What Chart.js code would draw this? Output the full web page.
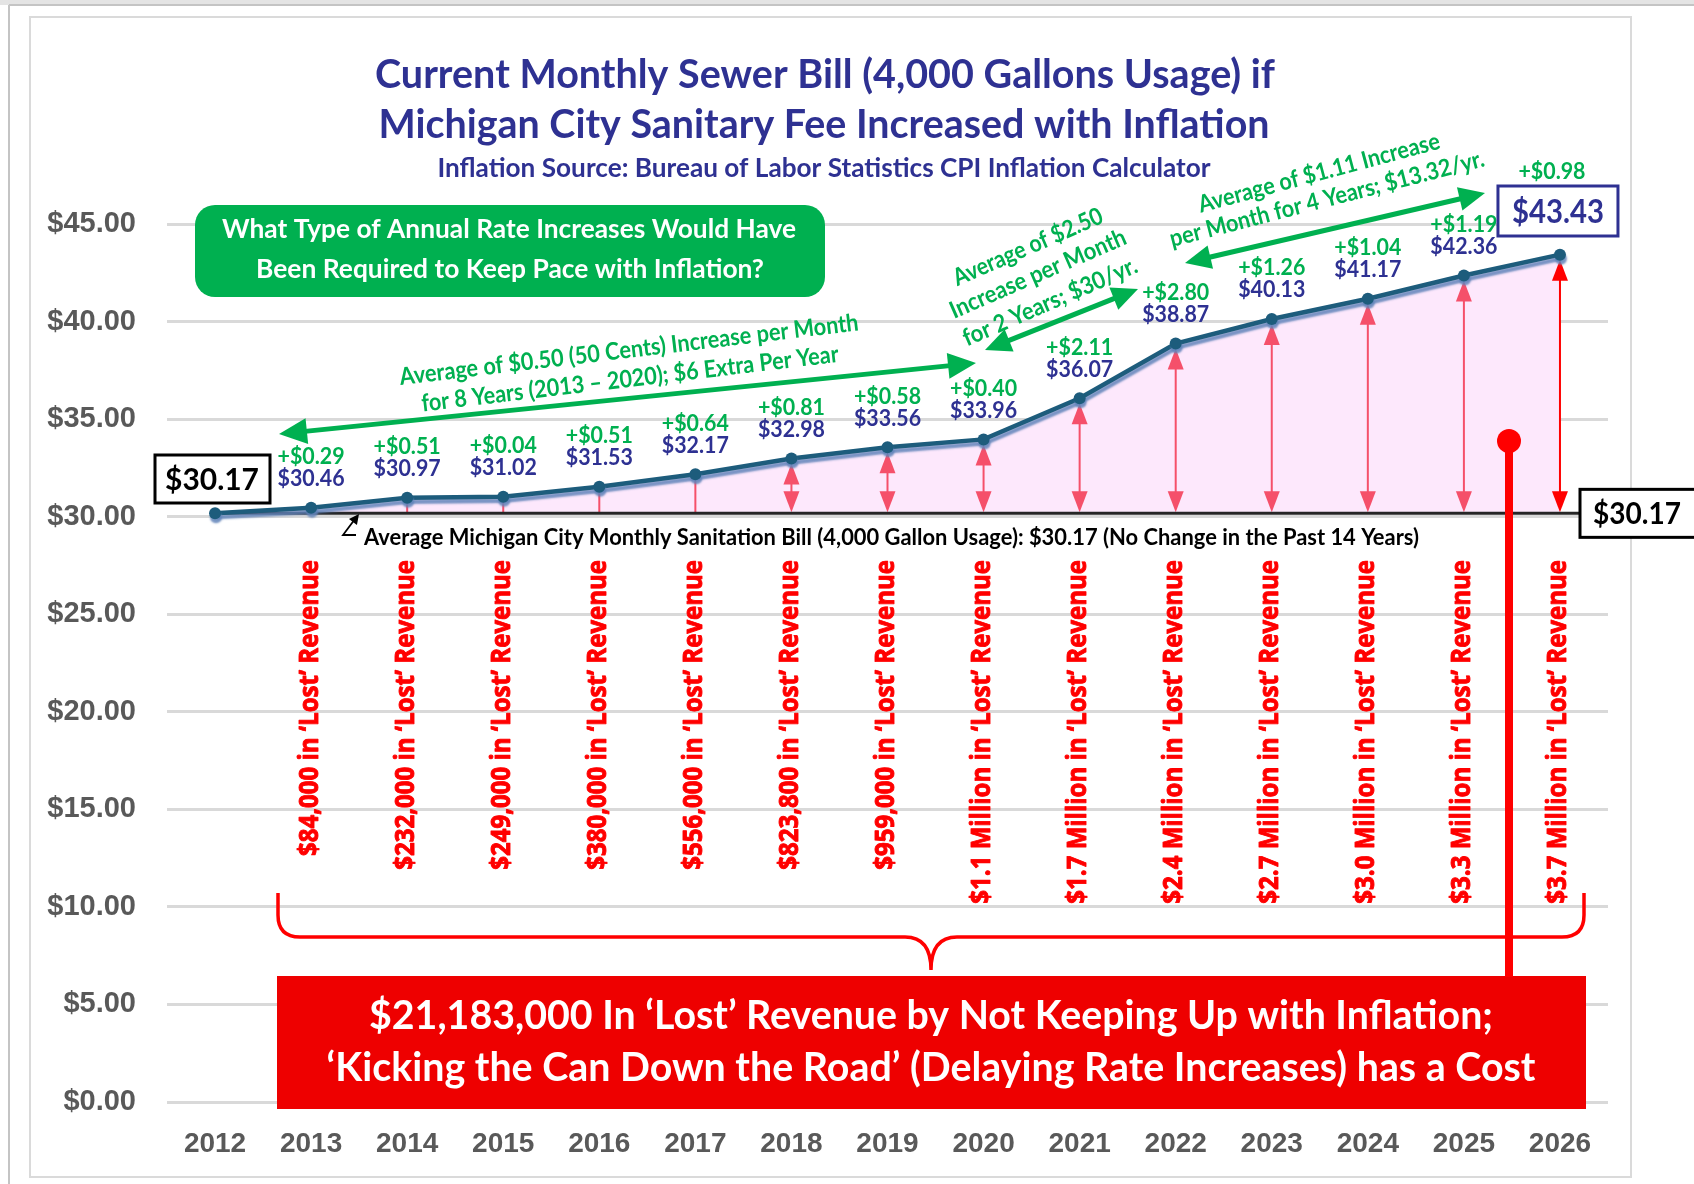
<!DOCTYPE html>
<html>
<head>
<meta charset="utf-8">
<title>Monthly Sewer Bill vs Inflation</title>
<script src="https://cdn.jsdelivr.net/npm/chart.js@4.4.1/dist/chart.umd.min.js"></script>
<style>
  html, body { margin: 0; padding: 0; background: #fff; }
  #wrap { width: 1694px; height: 1184px; }
</style>
</head>
<body>
<div id="wrap"><canvas id="chart" width="1694" height="1184"></canvas></div>
<script>
// DATA
const years = ['2012', '2013', '2014', '2015', '2016', '2017', '2018', '2019', '2020', '2021', '2022', '2023', '2024', '2025', '2026'];
const monthlyBill = [30.17, 30.46, 30.97, 31.02, 31.53, 32.17, 32.98, 33.56, 33.96, 36.07, 38.87, 40.13, 41.17, 42.36, 43.43];
const yearlyIncrease = [null, 0.29, 0.51, 0.04, 0.51, 0.64, 0.81, 0.58, 0.40, 2.11, 2.80, 1.26, 1.04, 1.19, 0.98];
const lostRevenue = [null, '$84,000', '$232,000', '$249,000', '$380,000', '$556,000', '$823,800', '$959,000',
  '$1.1 Million', '$1.7 Million', '$2.4 Million', '$2.7 Million', '$3.0 Million', '$3.3 Million', '$3.7 Million'];
const currentBill = 30.17;
const yMin = 0, yMax = 45, yStep = 5;

const GREEN = '#00B050', BLUE = '#2E3192', RED = '#FF0000', PINKRED = '#F5506A';
const CAL = 'Lato, "Open Sans", sans-serif';

// draw a text, optionally squeezed to a target width
function say(ctx, s, x, y, o) {
  ctx.save();
  ctx.font = (o.weight || 'bold') + ' ' + o.size + 'px ' + (o.family || CAL);
  ctx.fillStyle = o.color || '#000';
  ctx.textAlign = o.align || 'center';
  ctx.textBaseline = o.base || 'middle';
  ctx.translate(x, y);
  if (o.angle) ctx.rotate(o.angle * Math.PI / 180);
  let sx = o.sx || 1;
  if (o.w) sx = o.w / ctx.measureText(s).width;
  ctx.scale(sx, 1);
  ctx.fillText(s, 0, 0);
  if (o.stroke) { // a bit heavier
    ctx.strokeStyle = o.color; ctx.lineWidth = o.stroke; ctx.lineJoin = 'round';
    ctx.strokeText(s, 0, 0);
  }
  ctx.restore();
}

function head(ctx, x, y, ang, len, half) {
  ctx.beginPath();
  ctx.moveTo(x, y);
  ctx.lineTo(x - len * Math.cos(ang) + half * Math.sin(ang), y - len * Math.sin(ang) - half * Math.cos(ang));
  ctx.lineTo(x - len * Math.cos(ang) - half * Math.sin(ang), y - len * Math.sin(ang) + half * Math.cos(ang));
  ctx.closePath();
  ctx.fill();
}

// double headed arrow
function arrow2(ctx, x1, y1, x2, y2, color, lw, len, half) {
  const a = Math.atan2(y2 - y1, x2 - x1);
  ctx.save();
  ctx.strokeStyle = color; ctx.fillStyle = color; ctx.lineWidth = lw;
  ctx.beginPath();
  ctx.moveTo(x1 + (len - 2) * Math.cos(a), y1 + (len - 2) * Math.sin(a));
  ctx.lineTo(x2 - (len - 2) * Math.cos(a), y2 - (len - 2) * Math.sin(a));
  ctx.stroke();
  head(ctx, x2, y2, a, len, half);
  head(ctx, x1, y1, a + Math.PI, len, half);
  ctx.restore();
}

const annotations = {
  id: 'annotations',
  beforeDraw(chart) {
    const ctx = chart.ctx;
    ctx.save();
    ctx.fillStyle = '#fff';
    ctx.fillRect(0, 0, chart.width, chart.height);
    ctx.fillStyle = '#E4E4E4';
    ctx.fillRect(0, 0, chart.width, 5);
    ctx.strokeStyle = '#C4C4C4'; ctx.lineWidth = 2;
    ctx.beginPath(); ctx.moveTo(9, 5); ctx.lineTo(chart.width, 5); ctx.moveTo(9, 5); ctx.lineTo(9, chart.height); ctx.stroke();
    ctx.strokeStyle = '#DADADA'; ctx.lineWidth = 2;
    ctx.strokeRect(30, 17, 1601, 1160);
    ctx.restore();
  },
  // RED GAP ARROWS AND THE FLAT $30.17 LINE, ON TOP OF THE FILL
  beforeDatasetsDraw(chart) {
    const ctx = chart.ctx;
    const pts = chart.getDatasetMeta(0).data;
    const base = chart.scales.y.getPixelForValue(currentBill);
    ctx.save();
    for (let i = 1; i < pts.length; i++) {
      const x = pts[i].x, top = pts[i].y + 5, bot = base - 1;
      const c = i === pts.length - 1 ? RED : PINKRED;
      ctx.strokeStyle = c; ctx.fillStyle = c; ctx.lineWidth = 2;
      if (bot - top > 42) {
        ctx.beginPath(); ctx.moveTo(x, top + 18); ctx.lineTo(x, bot - 18); ctx.stroke();
        head(ctx, x, top, -Math.PI / 2, 21, 8);
        head(ctx, x, bot, Math.PI / 2, 21, 8);
      } else {
        ctx.beginPath(); ctx.moveTo(x, pts[i].y); ctx.lineTo(x, bot); ctx.stroke();
      }
    }
    ctx.strokeStyle = '#262626'; ctx.lineWidth = 3;
    ctx.beginPath(); ctx.moveTo(pts[0].x, base); ctx.lineTo(1582, base); ctx.stroke();
    ctx.restore();
  },
  beforeDatasetDraw(chart) {
    const ctx = chart.ctx;
    ctx.save();
    ctx.shadowColor = 'rgba(95,130,185,0.85)';
    ctx.shadowOffsetX = 1; ctx.shadowOffsetY = 4; ctx.shadowBlur = 2;
  },
  afterDatasetDraw(chart) {
    chart.ctx.restore();
  },
  afterDatasetsDraw(chart) {
    const ctx = chart.ctx;
    const pts = chart.getDatasetMeta(0).data;
    const base = chart.scales.y.getPixelForValue(currentBill);
    const last = pts.length - 1;

    // TITLES
    say(ctx, 'Current Monthly Sewer Bill (4,000 Gallons Usage) if', 825, 88, { size: 40, color: BLUE, base: 'alphabetic', w: 900 });
    say(ctx, 'Michigan City Sanitary Fee Increased with Inflation', 824, 138, { size: 40, color: BLUE, base: 'alphabetic', w: 891 });
    say(ctx, 'Inflation Source: Bureau of Labor Statistics CPI Inflation Calculator', 824, 177, { size: 26, color: BLUE, base: 'alphabetic', w: 773 });

    // GREEN QUESTION BOX
    ctx.save();
    ctx.fillStyle = GREEN;
    ctx.beginPath(); ctx.roundRect(195, 205, 630, 92, 20); ctx.fill();
    ctx.restore();
    say(ctx, 'What Type of Annual Rate Increases Would Have', 509, 238, { size: 27, color: '#fff', base: 'alphabetic', w: 574 });
    say(ctx, 'Been Required to Keep Pace with Inflation?', 510, 278, { size: 27, color: '#fff', base: 'alphabetic', w: 508 });

    // GREEN AVERAGE ARROWS + NOTES
    arrow2(ctx, 279, 434, 976, 363, GREEN, 5, 28, 13);
    arrow2(ctx, 985, 350, 1138, 289, GREEN, 5, 26, 12);
    arrow2(ctx, 1185, 263, 1485, 193, GREEN, 5, 26, 12);
    say(ctx, 'Average of $0.50 (50 Cents) Increase per Month', 629, 350, { size: 24, color: GREEN, angle: -6.8, w: 462 });
    say(ctx, 'for 8 Years (2013 \u2013 2020); $6 Extra Per Year', 630, 379, { size: 24, color: GREEN, angle: -6.8, w: 420 });
    say(ctx, 'Average of $2.50', 1028, 247, { size: 24, color: GREEN, angle: -23.5, w: 161 });
    say(ctx, 'Increase per Month', 1038, 274, { size: 24, color: GREEN, angle: -23.5, w: 190 });
    say(ctx, 'for 2 Years; $30/yr.', 1050, 302, { size: 24, color: GREEN, angle: -23.5, w: 188 });
    say(ctx, 'Average of $1.11 Increase', 1319, 173, { size: 24, color: GREEN, angle: -15, w: 249 });
    say(ctx, 'per Month for 4 Years; $13.32/yr.', 1327, 199, { size: 24, color: GREEN, angle: -14.5, w: 324 });

    // VALUE LABELS
    for (let i = 1; i < last; i++) {
      const p = pts[i];
      say(ctx, '+$' + yearlyIncrease[i].toFixed(2), p.x, p.y - 51, { size: 23, color: GREEN, sx: 0.93 });
      say(ctx, '$' + monthlyBill[i].toFixed(2), p.x, p.y - 29, { size: 23, color: BLUE, sx: 0.93 });
    }
    // last year in a blue box
    ctx.save();
    ctx.fillStyle = '#fff'; ctx.strokeStyle = BLUE; ctx.lineWidth = 3;
    ctx.fillRect(pts[last].x - 62, 186, 120, 50); ctx.strokeRect(pts[last].x - 62, 186, 120, 50);
    ctx.restore();
    say(ctx, '$' + monthlyBill[last].toFixed(2), pts[last].x - 2, 212, { size: 33, color: BLUE, w: 92 });
    say(ctx, '+$' + yearlyIncrease[last].toFixed(2), pts[last].x - 8, 172, { size: 23, color: GREEN, sx: 0.93 });

    // $30.17 BOXES
    ctx.save();
    ctx.fillStyle = '#fff'; ctx.strokeStyle = '#000'; ctx.lineWidth = 3;
    ctx.fillRect(155, 455, 115, 48); ctx.strokeRect(155, 455, 115, 48);
    ctx.fillRect(1580, base - 24, 130, 48); ctx.strokeRect(1580, base - 24, 130, 48);
    ctx.restore();
    say(ctx, '$' + currentBill.toFixed(2), 212, 480, { size: 31, color: '#000', w: 94 });
    say(ctx, '$' + currentBill.toFixed(2), 1637, base + 1, { size: 31, color: '#000', w: 88 });

    // NOTE UNDER THE FLAT LINE
    say(ctx, 'Average Michigan City Monthly Sanitation Bill (4,000 Gallon Usage): $30.17 (No Change in the Past 14 Years)',
      364, 545, { size: 22, color: '#000', align: 'left', base: 'alphabetic', w: 1055 });
    ctx.save();
    ctx.strokeStyle = '#000'; ctx.fillStyle = '#000'; ctx.lineWidth = 1.8;
    ctx.beginPath(); ctx.moveTo(356, 535); ctx.lineTo(343, 535); ctx.lineTo(355, 519); ctx.stroke();
    head(ctx, 359, 514, Math.atan2(-21, 16), 10, 5);
    ctx.restore();

    // LOST REVENUE LABELS (rotated)
    ctx.save();
    ctx.font = 'bold 26px "Open Sans", sans-serif';
    const sxRev = 296 / ctx.measureText('$84,000 in \u2018Lost\u2019 Revenue').width;
    ctx.restore();
    for (let i = 1; i < pts.length; i++) {
      say(ctx, lostRevenue[i] + ' in \u2018Lost\u2019 Revenue', pts[i].x - 1, 560,
        { size: 26, family: '"Open Sans", sans-serif', color: RED, angle: -90, align: 'right', sx: sxRev, stroke: 0.9 });
    }

    // RED BRACE
    ctx.save();
    ctx.strokeStyle = RED; ctx.lineWidth = 3.5;
    const bl = 278, br = 1584, bt = 893, bh = 937, cx = 931, tip = 970, r = 22;
    ctx.beginPath();
    ctx.moveTo(bl, bt); ctx.lineTo(bl, bh - r);
    ctx.quadraticCurveTo(bl, bh, bl + r, bh);
    ctx.lineTo(cx - 26, bh);
    ctx.quadraticCurveTo(cx, bh, cx, tip);
    ctx.quadraticCurveTo(cx, bh, cx + 26, bh);
    ctx.lineTo(br - r, bh);
    ctx.quadraticCurveTo(br, bh, br, bh - r);
    ctx.lineTo(br, bt);
    ctx.stroke();
    ctx.restore();

    // RED TOTAL BOX
    ctx.save();
    ctx.fillStyle = '#EE0000';
    ctx.fillRect(277, 976, 1309, 133);
    // red pin from the chart down to the box
    ctx.strokeStyle = RED; ctx.fillStyle = RED; ctx.lineWidth = 8;
    ctx.beginPath(); ctx.moveTo(1509, 441); ctx.lineTo(1509, 977); ctx.stroke();
    ctx.beginPath(); ctx.arc(1509, 441, 12, 0, Math.PI * 2); ctx.fill();
    ctx.restore();
    say(ctx, '$21,183,000 In \u2018Lost\u2019 Revenue by Not Keeping Up with Inflation;', 931, 1029, { size: 40, color: '#fff', base: 'alphabetic', w: 1124 });
    say(ctx, '\u2018Kicking the Can Down the Road\u2019 (Delaying Rate Increases) has a Cost', 931, 1081, { size: 40, color: '#fff', base: 'alphabetic', w: 1209 });
  }
};

new Chart(document.getElementById('chart'), {
  type: 'line',
  data: {
    labels: years,
    datasets: [{
      data: monthlyBill,
      borderColor: '#1D5C7C',
      borderWidth: 4.5,
      pointRadius: 6,
      pointBackgroundColor: '#1D5C7C',
      pointBorderColor: '#1D5C7C',
      pointBorderWidth: 0,
      fill: { value: currentBill },
      backgroundColor: '#FDE8FC',
      tension: 0,
    }],
  },
  options: {
    responsive: false,
    animation: false,
    layout: { padding: { left: 30, right: 86, top: 224, bottom: 0 } },
    plugins: {
      legend: { display: false },
      tooltip: { enabled: false },
      filler: { drawTime: 'beforeDatasetsDraw' },
    },
    scales: {
      x: {
        offset: true,
        grid: { display: false },
        border: { display: false },
        ticks: {
          color: '#595959', padding: 17, autoSkip: false, maxRotation: 0,
          font: { family: '"Liberation Sans", Arial, sans-serif', size: 28, weight: 'bold' },
        },
        afterFit: (s) => { s.height = 82; },
      },
      y: {
        min: yMin, max: yMax,
        grid: { color: '#D9D9D9', lineWidth: 3, drawTicks: false },
        border: { display: false },
        ticks: {
          stepSize: yStep, color: '#595959', padding: 31,
          font: { family: '"Liberation Sans", Arial, sans-serif', size: 29, weight: 'bold' },
          callback: (v) => '$' + v.toFixed(2),
        },
        afterFit: (s) => { s.width = 137; },
      },
    },
  },
  plugins: [annotations],
});
</script>
</body>
</html>
